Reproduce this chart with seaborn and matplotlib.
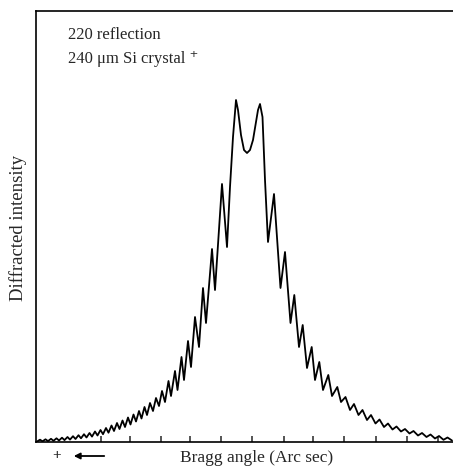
import numpy as np
import pandas as pd
import matplotlib
matplotlib.use('Agg')
import matplotlib.pyplot as plt
import seaborn as sns

# values (angle = scan position, intensity arbitrary)
# left flank, maxima and minima of the Pendellosung fringes
left_peak_angle = [222, 212, 203, 195, 188, 181.5, 175, 168.5, 162, 156, 150, 144.5, 139, 133.5,
                   128, 122.5, 117, 111.5, 106, 100.5, 95, 89.5, 84, 78.5, 73, 67.5, 62, 56.5, 51, 45.5, 40]
left_peak_int = [258, 193, 154, 125, 101, 85, 71, 61, 51, 44, 39, 35, 31, 27.5,
                 24.5, 21.5, 19, 16.5, 14, 12, 10.5, 9, 7.8, 6.8, 5.8, 5, 4.3, 3.7, 3.2, 2.7, 2.3]
left_trough_angle = [227, 215, 206, 199, 191, 184, 177.5, 171, 165, 159, 153, 147, 141.5, 136,
                     130.5, 125, 119.5, 114, 108.5, 103, 97.5, 92, 86.5, 81, 75.5, 70, 64.5, 59, 53.5, 48, 42.5, 37]
left_trough_int = [195, 152, 119, 95, 75, 62, 52, 46, 40, 36, 31, 27, 23.5, 20.5,
                   17.5, 15, 13, 11, 9.3, 7.8, 6.5, 5.4, 4.5, 3.7, 3, 2.4, 1.9, 1.5, 1.2, 0.9, 0.7, 0.5]

# central double peak
centre_angle = [230, 233, 236, 238, 241, 244, 247, 250, 253, 256, 258, 260, 262.5, 265]
centre_int = [255, 305, 342, 332, 307, 292, 289, 292, 302, 320, 332, 338, 325, 262]

# right flank
right_peak_angle = [274, 285, 294.3, 302.7, 311.7, 319.3, 328.3, 337.3, 345.5, 354, 362.5, 371,
                    379.5, 388, 396.5, 405, 413.5, 422, 430.5, 439, 447.5]
right_peak_int = [248, 190, 147, 117, 95, 80, 67, 55, 45, 38, 32, 27,
                  22.5, 18.5, 15.5, 13, 11, 9, 7.5, 6, 4.5]
right_trough_angle = [268, 280.5, 290.5, 299, 307, 315, 323, 332, 341, 350, 358.5, 367, 375.5,
                      384, 392.5, 401, 409.5, 418, 426.5, 435, 443.5, 452]
right_trough_int = [200, 154, 119, 95, 74, 62, 52, 46, 40, 32, 27, 22, 18.5,
                    15, 12.5, 10.5, 8.5, 6.5, 5, 3.5, 2.2, 1.5]

tick_angles = [101, 130, 161, 190, 221, 252, 284, 313, 344, 376, 407, 438]

angle = left_peak_angle + left_trough_angle + centre_angle + right_peak_angle + right_trough_angle
intensity = left_peak_int + left_trough_int + centre_int + right_peak_int + right_trough_int
df = pd.DataFrame({'angle': angle, 'intensity': intensity}).sort_values('angle')

sns.set_style('ticks')
plt.rcParams['font.family'] = ['Liberation Serif', 'DejaVu Serif']

W, H = 453, 467
fig = plt.figure(figsize=(W / 100, H / 100), dpi=100)
ax = fig.add_axes([36 / W, 25 / H, (W - 36) / W, 431 / H])

sns.lineplot(data=df, x='angle', y='intensity', ax=ax, color='black', lw=1.3,
             estimator=None, sort=True)

ax.set_xlim(36, 453)
ax.set_ylim(0, 431)
ax.set_xticks(tick_angles)
ax.set_yticks([])
ax.tick_params(axis='x', direction='in', length=4, width=1.1, labelbottom=False)
for s in ['left', 'top', 'bottom']:
    ax.spines[s].set_linewidth(1.2)
    ax.spines[s].set_color('black')
ax.spines['right'].set_visible(False)
ax.set_xlabel('')
ax.set_ylabel('')

ax.text(68, 403, '220 reflection', fontsize=12, va='baseline')
ax.text(68, 379, '240 μm Si crystal ⁺', fontsize=12, va='baseline')

fig.text(257 / W, 1 - 458 / H, 'Bragg angle (Arc sec)', fontsize=12.5, ha='center', va='center')
fig.text(18 / W, 1 - 228 / H, 'Diffracted intensity', fontsize=13.5, rotation=90, ha='center', va='center')
fig.text(57 / W, 1 - 456 / H, '+', fontsize=11, fontweight='bold', ha='center', va='center')
ax.annotate('', xy=(71 / W, 1 - 456 / H), xytext=(107 / W, 1 - 456 / H),
            xycoords='figure fraction', textcoords='figure fraction', annotation_clip=False,
            arrowprops=dict(arrowstyle='-|>', color='black', lw=1.3, mutation_scale=9))

fig.savefig('out.png', dpi=100)
